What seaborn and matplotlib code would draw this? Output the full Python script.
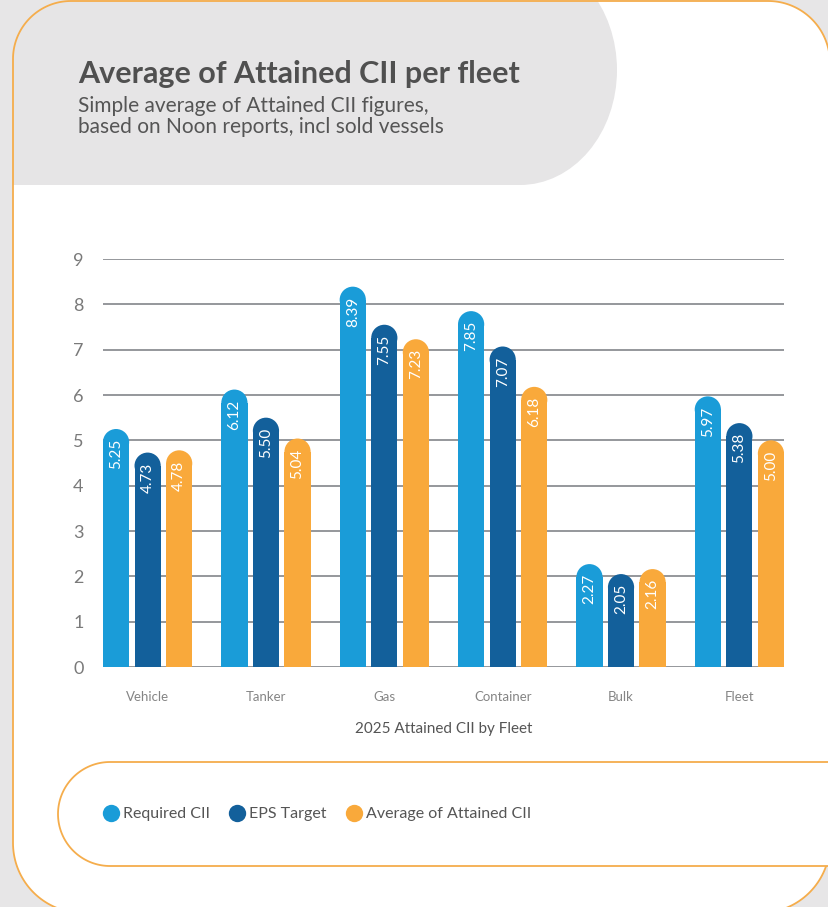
import matplotlib
matplotlib.use("Agg")
import matplotlib.pyplot as plt
from matplotlib.patches import Ellipse, Rectangle, PathPatch
from matplotlib.path import Path
from matplotlib.lines import Line2D
import numpy as np
import seaborn as sns
import pandas as pd

# ---- data ----
fleets = ["Vehicle", "Tanker", "Gas", "Container", "Bulk", "Fleet"]
series = ["Required CII", "EPS Target", "Average of Attained CII"]
required_cii = [5.25, 6.12, 8.39, 7.85, 2.27, 5.97]
eps_target = [4.73, 5.50, 7.55, 7.07, 2.05, 5.38]
avg_attained = [4.78, 5.04, 7.23, 6.18, 2.16, 5.00]
colors = ["#1a9cd8", "#13609b", "#f9a93b"]
yticks = list(range(0, 10))

title = "Average of Attained CII per fleet"
subtitle = "Simple average of Attained CII figures,\nbased on Noon reports, incl sold vessels"
xlabel = "2025 Attained CII by Fleet"

rows = []
for s, vals in zip(series, [required_cii, eps_target, avg_attained]):
    for f, v in zip(fleets, vals):
        rows.append({"fleet": f, "series": s, "value": v})
df = pd.DataFrame(rows)

sns.set_theme(style="white")
plt.rcParams["font.family"] = ["Lato", "DejaVu Sans"]

W, H = 829, 907
fig = plt.figure(figsize=(W / 100, H / 100), dpi=100)
fig.patch.set_facecolor("#e7e6e7")


def rounded_rect(x0, y0, x1, y1, r_tl, r_tr, r_br, r_bl, n=40):
    # pixel coords, y downward
    pts = []
    def arc(cx, cy, r, a0, a1):
        for a in np.linspace(a0, a1, n):
            pts.append((cx + r * np.cos(a), cy + r * np.sin(a)))
    arc(x0 + r_tl, y0 + r_tl, r_tl, np.pi, 1.5 * np.pi)
    arc(x1 - r_tr, y0 + r_tr, r_tr, 1.5 * np.pi, 2 * np.pi)
    arc(x1 - r_br, y1 - r_br, r_br, 0, 0.5 * np.pi)
    arc(x0 + r_bl, y1 - r_bl, r_bl, 0.5 * np.pi, np.pi)
    pts.append(pts[0])
    codes = [Path.MOVETO] + [Path.LINETO] * (len(pts) - 2) + [Path.CLOSEPOLY]
    return Path(pts, codes)


# ---- background decoration (pixel coords) ----
bg = fig.add_axes([0, 0, 1, 1], zorder=-5)
bg.set_xlim(0, W)
bg.set_ylim(H, 0)
bg.axis("off")
bg.patch.set_alpha(0)
orange = "#f5ad4c"
card_path = rounded_rect(13, 1, 830, 913, 58, 62, 70, 70)
card = PathPatch(card_path, facecolor="white", edgecolor="none", zorder=1)
bg.add_patch(card)
grey = "#e6e5e6"
r1 = Rectangle((0, 0), 520, 185, facecolor=grey, edgecolor="none", zorder=2)
e1 = Ellipse((520, 70), 194, 230, facecolor=grey, edgecolor="none", zorder=2)
for p in (r1, e1):
    bg.add_patch(p)
    p.set_clip_path(card)
bg.add_patch(PathPatch(card_path, facecolor="none", edgecolor=orange, lw=1.3, zorder=3))
leg_path = rounded_rect(58, 762, 960, 866, 52, 52, 52, 52)
bg.add_patch(PathPatch(leg_path, facecolor="white", edgecolor=orange, lw=1.3, zorder=3))

# ---- titles ----
fig.text(78 / W, 1 - 83 / H, title, fontsize=22, fontweight="bold",
         color="#505050", ha="left", va="baseline")
fig.text(78 / W, 1 - 112 / H, subtitle.split("\n")[0], fontsize=15, color="#555555",
         ha="left", va="baseline")
fig.text(78 / W, 1 - 133 / H, subtitle.split("\n")[1], fontsize=15, color="#555555",
         ha="left", va="baseline")

# ---- main chart ----
left, right = 103 / W, 784 / W
bottom, top = 1 - 667 / H, 1 - 259 / H
ax = fig.add_axes([left, bottom, right - left, top - bottom])
ax.patch.set_alpha(0)

sns.barplot(data=df, x="fleet", y="value", hue="series", palette=colors,
            width=0.8, gap=0.17, linewidth=0, saturation=1, ax=ax, legend=False,
            errorbar=None)

ax.set_xlim(-0.377, len(fleets) - 1 + 0.377)
ax.set_ylim(0, 9)
ax.set_yticks(yticks)
ax.yaxis.grid(True, color="#8c8f93", lw=1.3)
ax.xaxis.grid(False)
ax.set_axisbelow(True)
for s in ax.spines.values():
    s.set_visible(False)
ax.tick_params(axis="both", length=0)
ax.tick_params(axis="y", labelsize=13, labelcolor="#7a7a7a", pad=14)
ax.tick_params(axis="x", labelsize=9.5, labelcolor="#858585", pad=17)
ax.set_ylabel("")
ax.set_xlabel(xlabel, fontsize=11, color="#555555", labelpad=14)

# rounded bar tops + value labels
fig.canvas.draw()
px_per_x = ax.bbox.width / (ax.get_xlim()[1] - ax.get_xlim()[0])
px_per_y = ax.bbox.height / (ax.get_ylim()[1] - ax.get_ylim()[0])
for cont, col in zip(ax.containers, colors):
    for bar in cont:
        h = bar.get_height()
        x0 = bar.get_x()
        w = bar.get_width()
        r_px = w * px_per_x / 2
        r_y = r_px / px_per_y
        bar.set_height(h - r_y)
        ax.add_patch(Ellipse((x0 + w / 2, h - r_y), w, 2 * r_y,
                             facecolor=col, edgecolor="none", zorder=bar.get_zorder()))
        ax.text(x0 + w / 2, h - 10 / px_per_y, f"{h:.2f}", rotation=90,
                ha="center", va="top", color="white", fontsize=11, zorder=5)

# ---- legend ----
handles = [Line2D([0], [0], marker="o", linestyle="none", markersize=12.5,
                  markerfacecolor=c, markeredgecolor="none") for c in colors]
fig.legend(handles, series, loc="center left",
           bbox_to_anchor=(96 / W, 1 - 814 / H), ncol=3, frameon=False,
           fontsize=11.5, handlelength=0.9, handletextpad=0.3, columnspacing=1.25,
           borderpad=0, labelcolor="#555555")

fig.savefig("out.png", dpi=100, facecolor=fig.get_facecolor())
